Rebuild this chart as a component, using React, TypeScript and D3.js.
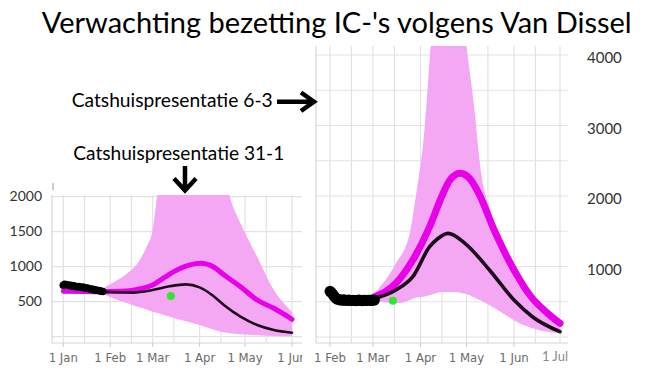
import React from "react";
import * as d3 from "d3";

const parse = d3.timeParse("%Y-%m-%d");

// ---- links: Catshuispresentatie 31-1 ----
const leftObsStart = "2021-01-01";
const leftObsValues = [735, 748, 742, 738, 730, 736, 722, 726, 716, 712, 718, 706, 702, 708, 698, 692, 696, 686, 682, 678, 672, 668, 664, 660, 656, 650, 646];

const leftModelDates = ["2021-01-01", "2021-01-15", "2021-01-27", "2021-02-08", "2021-02-16", "2021-02-22", "2021-03-01", "2021-03-09", "2021-03-15", "2021-03-22", "2021-04-02", "2021-04-10", "2021-04-17", "2021-04-28", "2021-05-09", "2021-05-20", "2021-06-01"];
const leftModelValues = [648, 645, 643, 648, 665, 690, 740, 850, 930, 1000, 1049, 1000, 885, 714, 524, 406, 249];

const leftCentralDates = ["2021-01-27", "2021-02-05", "2021-02-16", "2021-03-01", "2021-03-12", "2021-03-23", "2021-04-01", "2021-04-09", "2021-04-17", "2021-04-28", "2021-05-09", "2021-05-20", "2021-06-01"];
const leftCentralValues = [645, 635, 630, 667, 720, 748, 705, 600, 453, 286, 167, 96, 57];

const leftBandDates = ["2021-01-25", "2021-02-04", "2021-02-12", "2021-02-20", "2021-02-25", "2021-03-01", "2021-03-04", "2021-03-10", "2021-04-01", "2021-04-15", "2021-04-21", "2021-04-28", "2021-05-09", "2021-05-20", "2021-06-01"];
const leftBandUpper = [660, 790, 900, 1080, 1286, 1524, 2024, 2600, 3500, 2600, 2000, 1620, 1143, 667, 357];
const leftBandLower = [640, 540, 480, 420, 390, 357, 340, 300, 167, 71, 50, 35, 20, 10, 5];

const leftNowDate = "2021-03-13";
const leftNowValue = 581;

const leftTickDates = ["2021-01-01", "2021-02-01", "2021-03-01", "2021-04-01", "2021-05-01", "2021-06-01"];
const leftTickLabels = ["1 Jan", "1 Feb", "1 Mar", "1 Apr", "1 May", "1 Jun"];
const leftYTicks = [500, 1000, 1500, 2000];

// ---- rechts: Catshuispresentatie 6-3 ----
const rightObsStart = "2021-02-01";
const rightObsValues = [648, 630, 600, 570, 548, 535, 530, 525, 522, 528, 520, 518, 524, 520, 516, 522, 518, 515, 520, 524, 518, 515, 520, 522, 517, 520, 523, 518, 522, 525];

const rightModelDates = ["2021-03-01", "2021-03-16", "2021-03-27", "2021-04-07", "2021-04-15", "2021-04-20", "2021-04-27", "2021-05-03", "2021-05-09", "2021-05-20", "2021-06-01", "2021-06-12", "2021-06-23", "2021-07-01"];
const rightModelValues = [560, 762, 1092, 1565, 2000, 2220, 2322, 2250, 2038, 1471, 950, 572, 336, 194];

const rightCentralDates = ["2021-03-01", "2021-03-16", "2021-03-27", "2021-04-07", "2021-04-12", "2021-04-19", "2021-04-30", "2021-05-16", "2021-06-01", "2021-06-13", "2021-07-01"];
const rightCentralValues = [540, 667, 855, 1281, 1390, 1470, 1329, 950, 525, 288, 75];

const rightBandDates = ["2021-03-01", "2021-03-16", "2021-03-25", "2021-03-29", "2021-04-03", "2021-04-08", "2021-04-15", "2021-04-22", "2021-05-01", "2021-05-06", "2021-05-10", "2021-05-17", "2021-05-26", "2021-06-06", "2021-06-17", "2021-07-01"];
const rightBandUpper = [590, 1045, 1471, 2000, 2800, 4200, 5600, 5800, 4120, 3267, 2415, 1755, 1139, 667, 383, 265];
const rightBandLower = [525, 478, 520, 560, 572, 600, 640, 640, 610, 560, 520, 440, 320, 180, 99, 52];

const rightNowDate = "2021-03-14";
const rightNowValue = 515;

const rightTickDates = ["2021-02-01", "2021-03-01", "2021-04-01", "2021-05-01", "2021-06-01"];
const rightTickLabels = ["1 Feb", "1 Mar", "1 Apr", "1 May", "1 Jun"];
const rightLastTickDate = "2021-07-01";
const rightLastTickLabel = "1 Jul";
const rightYTicks = [1000, 2000, 3000, 4000];

const W = 654;
const H = 372;
const sansFont = "Lato, 'Open Sans', sans-serif";
const axisFont = "'Liberation Sans Narrow', 'DejaVu Sans Condensed', 'Liberation Sans', sans-serif";
const bandColor = "#f4a8f4";
const modelColor = "#e800e8";
const centralColor = "#1c0a1c";
const gridColor = "#e2e2e2";
const nowColor = "#2fe62f";

type Pt = { date: Date; value: number };
type BandPt = { date: Date; hi: number; lo: number };

const toPts = (dates: string[], values: number[]): Pt[] =>
  dates.map((d, i) => ({ date: parse(d)!, value: values[i] }));

const dailyPts = (start: string, values: number[]): Pt[] =>
  values.map((v, i) => ({ date: d3.timeDay.offset(parse(start)!, i), value: v }));

const toBand = (dates: string[], hi: number[], lo: number[]): BandPt[] =>
  dates.map((d, i) => ({ date: parse(d)!, hi: hi[i], lo: lo[i] }));

function halfMonths(from: Date, to: Date) {
  const out: Date[] = [];
  for (const m of d3.timeMonth.range(from, d3.timeDay.offset(to, 1))) {
    out.push(m);
    const mid = d3.timeDay.offset(m, 14);
    if (mid < to) out.push(mid);
  }
  return out;
}

type PanelProps = {
  id: string;
  x: d3.ScaleTime<number, number>;
  y: d3.ScaleLinear<number, number>;
  box: { left: number; right: number; top: number; bottom: number };
  yMax: number;
  obs: Pt[];
  obsR: number;
  model: Pt[];
  central: Pt[];
  band: BandPt[];
  now: Pt;
  modelWidth: number;
  centralWidth: number;
};

function Panel(p: PanelProps) {
  const { x, y, box } = p;
  const [d0, d1] = x.domain();
  const gridDates = halfMonths(d0, d1);
  const gridValues = d3.range(0, p.yMax + 1, 500);

  const area = d3
    .area<BandPt>()
    .x((d) => x(d.date))
    .y0((d) => y(d.lo))
    .y1((d) => y(d.hi))
    .curve(d3.curveMonotoneX);
  const line = d3
    .line<Pt>()
    .x((d) => x(d.date))
    .y((d) => y(d.value))
    .curve(d3.curveMonotoneX);

  return (
    <g>
      <defs>
        <clipPath id={`clip-${p.id}`}>
          <rect x={box.left} y={box.top} width={box.right - box.left} height={box.bottom - box.top} />
        </clipPath>
      </defs>
      <g stroke={gridColor} strokeWidth={1.2}>
        {gridValues.map((v) => (
          <line key={`h${v}`} x1={box.left} x2={box.right} y1={y(v)} y2={y(v)} />
        ))}
        {gridDates.map((d, i) => (
          <line key={`v${i}`} x1={x(d)} x2={x(d)} y1={box.top} y2={box.bottom} />
        ))}
        <line x1={box.left} x2={box.right} y1={box.bottom} y2={box.bottom} stroke="#d6d6d6" />
        <line x1={box.left} x2={box.left} y1={box.top} y2={box.bottom} stroke="#d6d6d6" />
      </g>
      <g clipPath={`url(#clip-${p.id})`}>
        <path d={area(p.band) ?? ""} fill={bandColor} />
        <path d={line(p.model) ?? ""} fill="none" stroke={modelColor} strokeWidth={p.modelWidth} strokeLinecap="round" />
        <path d={line(p.central) ?? ""} fill="none" stroke={centralColor} strokeWidth={p.centralWidth} strokeLinecap="round" />
        {p.obs.map((d, i) => (
          <circle key={i} cx={x(d.date)} cy={y(d.value)} r={p.obsR} fill="#000" />
        ))}
        <circle cx={x(p.now.date)} cy={y(p.now.value)} r={4} fill={nowColor} />
      </g>
    </g>
  );
}

export default function App() {
  // links
  const xL = d3.scaleTime().domain([parse("2021-01-01")!, parse("2021-06-01")!]).range([63.3, 292]);
  const yL = d3.scaleLinear().domain([0, 2000]).range([336.7, 196.7]);
  const boxL = { left: 52, right: 302, top: 195, bottom: 343 };

  // rechts
  const xR = d3.scaleTime().domain([parse("2021-02-01")!, parse("2021-07-01")!]).range([330, 560]);
  const yR = d3.scaleLinear().domain([0, 4000]).range([337, 55]);
  const boxR = { left: 316, right: 568, top: 46, bottom: 343 };

  return (
    <svg width={W} height={H} style={{ position: "absolute", left: 0, top: 0, display: "block", background: "#fff" }}>
      <defs>
        <clipPath id="clip-left-labels">
          <rect x={0} y={340} width={302} height={32} />
        </clipPath>
      </defs>

      <Panel
        id="left"
        x={xL}
        y={yL}
        box={boxL}
        yMax={2000}
        obs={dailyPts(leftObsStart, leftObsValues)}
        obsR={3.8}
        model={toPts(leftModelDates, leftModelValues)}
        central={toPts(leftCentralDates, leftCentralValues)}
        band={toBand(leftBandDates, leftBandUpper, leftBandLower)}
        now={{ date: parse(leftNowDate)!, value: leftNowValue }}
        modelWidth={5}
        centralWidth={2.6}
      />
      <line x1={boxL.left + 1} x2={boxL.left + 1} y1={183} y2={190} stroke="#bbb" strokeWidth={1.5} />

      <Panel
        id="right"
        x={xR}
        y={yR}
        box={boxR}
        yMax={4000}
        obs={dailyPts(rightObsStart, rightObsValues)}
        obsR={5.5}
        model={toPts(rightModelDates, rightModelValues)}
        central={toPts(rightCentralDates, rightCentralValues)}
        band={toBand(rightBandDates, rightBandUpper, rightBandLower)}
        now={{ date: parse(rightNowDate)!, value: rightNowValue }}
        modelWidth={7}
        centralWidth={3.6}
      />

      {/* x-as links */}
      <g clipPath="url(#clip-left-labels)" fontFamily={axisFont} fontSize={13} fill="#6a6a6a" textAnchor="middle">
        {leftTickDates.map((d, i) => (
          <g key={d}>
            <line x1={xL(parse(d)!)} x2={xL(parse(d)!)} y1={343} y2={347} stroke="#ccc" />
            <text x={xL(parse(d)!)} y={361.5}>{leftTickLabels[i]}</text>
          </g>
        ))}
      </g>
      {/* x-as rechts */}
      <g fontFamily={axisFont} fontSize={13} fill="#6a6a6a" textAnchor="middle">
        {rightTickDates.map((d, i) => (
          <g key={d}>
            <line x1={xR(parse(d)!)} x2={xR(parse(d)!)} y1={343} y2={347} stroke="#ccc" />
            <text x={xR(parse(d)!)} y={361.5}>{rightTickLabels[i]}</text>
          </g>
        ))}
      </g>
      <text x={xR(parse(rightLastTickDate)!) + 8} y={361} fontFamily={sansFont} fontSize={13} fill="#8a8a8a" textAnchor="end">
        {rightLastTickLabel}
      </text>

      {/* y-as links */}
      <g fontFamily={sansFont} fontSize={14} fill="#333" textAnchor="end">
        {leftYTicks.map((v) => (
          <text key={v} x={42} y={yL(v) - 1} dominantBaseline="central">{v}</text>
        ))}
      </g>
      {/* y-as rechts */}
      <g fontFamily={sansFont} fontSize={15} fill="#333" textAnchor="start">
        {rightYTicks.map((v) => (
          <text key={v} x={587} y={yR(v) + 2} dominantBaseline="central">{v}</text>
        ))}
      </g>

      {/* titel en annotaties */}
      <text x={41.7} y={33} fontFamily={sansFont} fontSize={28} fill="#000" textLength={590} lengthAdjust="spacingAndGlyphs">
        Verwachting bezetting IC-'s volgens Van Dissel
      </text>
      <text x={71.7} y={106.7} fontFamily={sansFont} fontSize={19.5} fill="#000" textLength={201} lengthAdjust="spacingAndGlyphs">
        Catshuispresentatie 6-3
      </text>
      <path d="M277,101.7 L312,101.7 M301,92.5 L314,101.7 L301,111" fill="none" stroke="#000" strokeWidth={4.5} />
      <text x={73.3} y={160} fontFamily={sansFont} fontSize={19.5} fill="#000" textLength={211} lengthAdjust="spacingAndGlyphs">
        Catshuispresentatie 31-1
      </text>
      <path d="M185,166 L185,189 M174,178.5 L185,190.5 L196,178.5" fill="none" stroke="#000" strokeWidth={4.5} />
    </svg>
  );
}
